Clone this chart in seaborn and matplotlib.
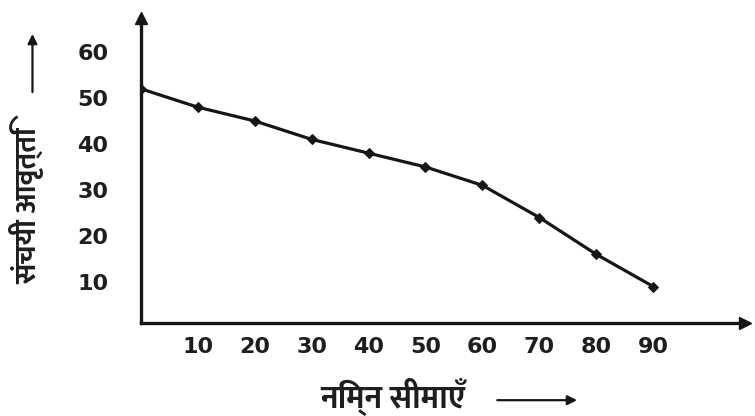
import numpy as np
import pandas as pd
import matplotlib
matplotlib.use("Agg")
import matplotlib.pyplot as plt
from matplotlib import font_manager
from matplotlib.ft2font import FT2Font
import matplotlib.transforms as mtransforms
import seaborn as sns

lower_limits = [0, 10, 20, 30, 40, 50, 60, 70, 80, 90]
cum_freq = [52, 48, 45, 41, 38, 35, 31, 24, 16, 9]
x_ticks = [10, 20, 30, 40, 50, 60, 70, 80, 90]
y_ticks = [10, 20, 30, 40, 50, 60]
x_title = "निम्न सीमाएँ"
y_title = "संचयी आवृत्ति"


def pick_devanagari_font():
    """Installed family with Devanagari glyphs, a bold face preferred"""
    found = []
    for path in font_manager.findSystemFonts():
        try:
            cmap = FT2Font(path).get_charmap()
        except Exception:
            continue
        if 0x0928 in cmap and 0x0938 in cmap:
            found.append(font_manager.FontProperties(fname=path).get_name())
    found = set(found)
    preferred = ['Noto Sans Devanagari', 'Mukta', 'Hind', 'Lohit Devanagari',
                 'Yantramanav', 'Poppins', 'Noto Serif Devanagari']
    for fam in preferred:
        if fam not in found:
            continue
        path = font_manager.findfont(font_manager.FontProperties(family=fam, weight='bold'),
                                     fallback_to_default=False)
        if 'bold' in path.lower():
            return fam
    for fam in preferred:
        if fam in found:
            return fam
    return sorted(found)[0] if found else 'DejaVu Sans'


deva_font = pick_devanagari_font()

sns.set_theme(style="white")
plt.rcParams['font.family'] = ['DejaVu Sans']

df = pd.DataFrame({'lower': lower_limits, 'cf': cum_freq})

fig = plt.figure(figsize=(7.55, 4.16), dpi=100)
ax = fig.add_axes([0.1868, 0.2243, 0.80, 0.7327])

ink = '#161616'
sns.lineplot(data=df, x='lower', y='cf', ax=ax, color=ink, linewidth=2.3,
             marker='D', markersize=5, markeredgecolor=ink)

ax.set_xlim(0.06, 106.1)
ax.set_ylim(1.15, 67.4)
ax.set_xticks(x_ticks)
ax.set_yticks(y_ticks)
ax.set_xticklabels([str(v) for v in x_ticks], fontsize=16, fontweight='bold', color='#1e1e1e')
ax.set_yticklabels([str(v) for v in y_ticks], fontsize=16, fontweight='bold', color='#1e1e1e')

# x tick labels sit a little left of their ticks in the scan
shift = mtransforms.ScaledTranslation(-10 / 100, 0, fig.dpi_scale_trans)
for lab in ax.get_xticklabels():
    lab.set_transform(lab.get_transform() + shift)

for side in ['top', 'right']:
    ax.spines[side].set_visible(False)
for side in ['left', 'bottom']:
    ax.spines[side].set_color(ink)
    ax.spines[side].set_linewidth(2.4)

ax.tick_params(axis='both', direction='inout', length=11, width=1.6, color=ink)
ax.tick_params(axis='y', pad=18)
ax.tick_params(axis='x', pad=5)

# axis arrows
ax.plot(1, 0, '>', color=ink, markersize=8, transform=ax.transAxes, clip_on=False)
ax.plot(0, 1, '^', color=ink, markersize=8, transform=ax.transAxes, clip_on=False)

ax.set_xlabel('')
ax.set_ylabel('')

fig.text(0.52, 0.046, x_title, ha='center', va='center', fontsize=23, fontweight='bold',
         color='#1e1e1e', family=[deva_font, 'DejaVu Sans'])
ax.annotate('', xy=(0.768, 0.038), xytext=(0.655, 0.038), xycoords='figure fraction',
            arrowprops=dict(arrowstyle='-|>', color=ink, lw=1.6, mutation_scale=14))

fig.text(0.036, 0.505, y_title, rotation=90, ha='center', va='center', fontsize=21,
         fontweight='bold', color='#1e1e1e', family=[deva_font, 'DejaVu Sans'])
ax.annotate('', xy=(0.043, 0.925), xytext=(0.043, 0.772), xycoords='figure fraction',
            arrowprops=dict(arrowstyle='-|>', color=ink, lw=1.6, mutation_scale=14))

fig.savefig('out.png', dpi=100)
